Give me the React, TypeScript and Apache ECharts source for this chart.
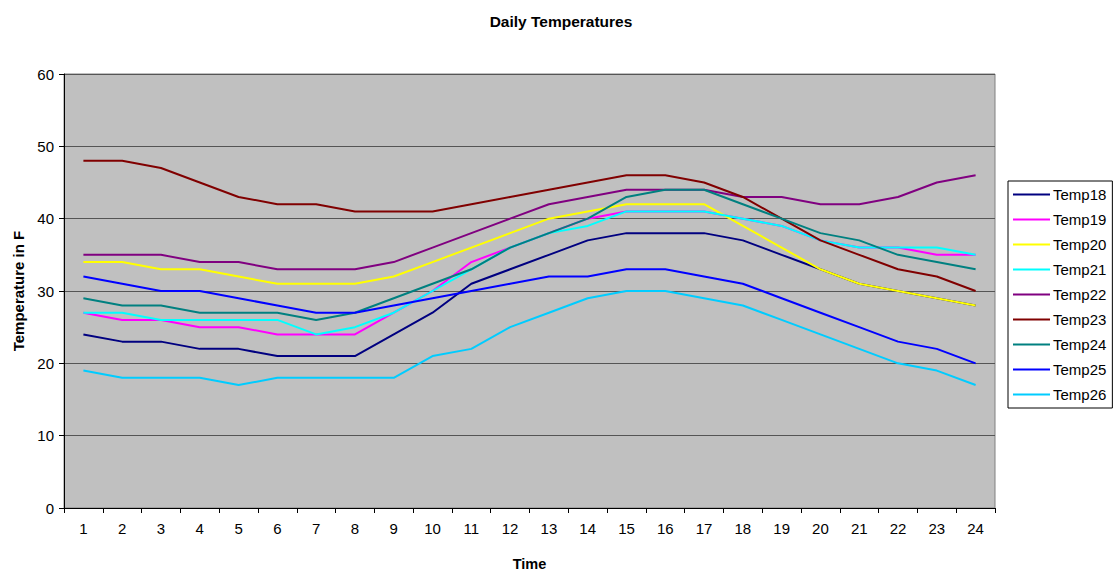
import React, { useEffect, useRef } from "react";
import * as echarts from "echarts";

const hours = ["1","2","3","4","5","6","7","8","9","10","11","12","13","14","15","16","17","18","19","20","21","22","23","24"];
const temp18 = [24,23,23,22,22,21,21,21,24,27,31,33,35,37,38,38,38,37,35,33,31,30,29,28];
const temp19 = [27,26,26,25,25,24,24,24,27,30,34,36,38,40,41,41,41,40,39,37,36,36,35,35];
const temp20 = [34,34,33,33,32,31,31,31,32,34,36,38,40,41,42,42,42,39,36,33,31,30,29,28];
const temp21 = [27,27,26,26,26,26,24,25,27,30,33,36,38,39,41,41,41,40,39,37,36,36,36,35];
const temp22 = [35,35,35,34,34,33,33,33,34,36,38,40,42,43,44,44,44,43,43,42,42,43,45,46];
const temp23 = [48,48,47,45,43,42,42,41,41,41,42,43,44,45,46,46,45,43,40,37,35,33,32,30];
const temp24 = [29,28,28,27,27,27,26,27,29,31,33,36,38,40,43,44,44,42,40,38,37,35,34,33];
const temp25 = [32,31,30,30,29,28,27,27,28,29,30,31,32,32,33,33,32,31,29,27,25,23,22,20];
const temp26 = [19,18,18,18,17,18,18,18,18,21,22,25,27,29,30,30,29,28,26,24,22,20,19,17];

const seriesNames = ["Temp18","Temp19","Temp20","Temp21","Temp22","Temp23","Temp24","Temp25","Temp26"];
const seriesData = [temp18,temp19,temp20,temp21,temp22,temp23,temp24,temp25,temp26];
const seriesColors = ["#000080","#FF00FF","#FFFF00","#00FFFF","#800080","#800000","#008080","#0000FF","#00CCFF"];

const FONT = "'Liberation Sans', Arial, sans-serif";

export default function App() {
  const ref = useRef<HTMLDivElement>(null);
  useEffect(() => {
    if (!ref.current) return;
    const chart = echarts.init(ref.current, null, { renderer: "svg" });
    chart.setOption({
      animation: false,
      backgroundColor: "#ffffff",
      textStyle: { fontFamily: FONT },
      title: {
        text: "Daily Temperatures",
        left: 556,
        textAlign: "center",
        top: 8,
        textStyle: { fontFamily: FONT, fontSize: 15.5, fontWeight: "bold", color: "#000" },
      },
      grid: {
        left: 64,
        top: 74,
        width: 931,
        height: 444,
        show: true,
        backgroundColor: "#C0C0C0",
        borderColor: "#808080",
        borderWidth: 1,
      },
      legend: {
        orient: "vertical",
        left: 1008,
        top: 181,
        padding: [5, 6, 5, 5],
        borderColor: "#000",
        borderWidth: 1,
        backgroundColor: "#fff",
        itemWidth: 37,
        itemHeight: 2,
        itemGap: 8,
        icon: "rect",
        textStyle: { fontFamily: FONT, fontSize: 15, color: "#000", padding: [0, 0, 0, -2], lineHeight: 17 },
        data: seriesNames,
      },
      xAxis: {
        type: "category",
        data: hours,
        boundaryGap: true,
        name: "Time",
        nameLocation: "middle",
        nameGap: 48,
        nameTextStyle: { fontFamily: FONT, fontSize: 14.5, fontWeight: "bold", color: "#000" },
        axisLine: { lineStyle: { color: "#000", width: 1 } },
        axisTick: { show: true, inside: false, length: 5, lineStyle: { color: "#000" } },
        axisLabel: { fontFamily: FONT, fontSize: 15, color: "#000", margin: 13 },
        splitLine: { show: false },
      },
      yAxis: {
        type: "value",
        min: 0,
        max: 60,
        interval: 10,
        name: "Temperature in F",
        nameLocation: "middle",
        nameGap: 38,
        nameRotate: 90,
        nameTextStyle: { fontFamily: FONT, fontSize: 15, fontWeight: "bold", color: "#000" },
        axisLine: { show: true, lineStyle: { color: "#000", width: 1 } },
        axisTick: { show: true, inside: false, length: 5, lineStyle: { color: "#000" } },
        axisLabel: { fontFamily: FONT, fontSize: 15, color: "#000", margin: 10 },
        splitLine: { show: true, lineStyle: { color: "#555555", width: 1 } },
      },
      series: seriesNames.map((name, i) => ({
        name,
        type: "line",
        data: seriesData[i],
        symbol: "none",
        color: seriesColors[i],
        lineStyle: { color: seriesColors[i], width: 2 },
        itemStyle: { color: seriesColors[i] },
      })),
    });
    return () => chart.dispose();
  }, []);
  return <div ref={ref} style={{ width: 1117, height: 576, position: "absolute", left: 0, top: 0 }} />;
}
